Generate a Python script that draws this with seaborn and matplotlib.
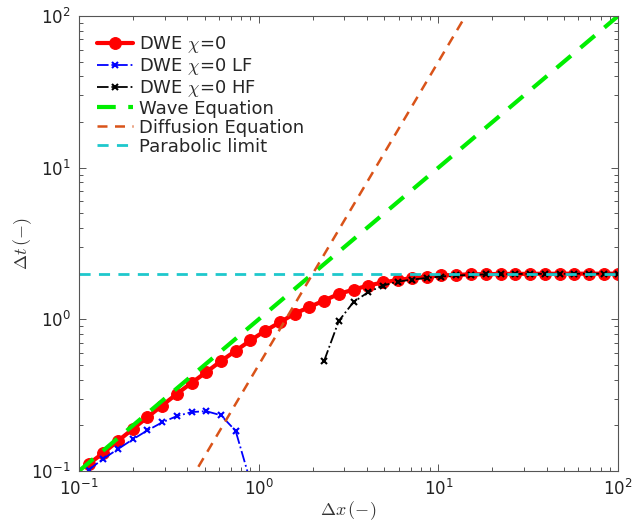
import numpy as np
import pandas as pd
import matplotlib
matplotlib.use("Agg")
import matplotlib.pyplot as plt
from matplotlib.font_manager import FontProperties
import seaborn as sns

# ---- data ----
dx = [0.113, 0.136, 0.165, 0.199, 0.240, 0.290, 0.350, 0.423, 0.510, 0.616,
      0.744, 0.899, 1.086, 1.312, 1.585, 1.914, 2.31, 2.79, 3.37, 4.07,
      4.91, 5.93, 7.16, 8.65, 10.4, 12.6, 15.2, 18.4, 22.2, 26.8,
      32.4, 39.1, 47.2, 57.0, 68.9, 83.2, 100.0]
dwe = [0.111, 0.131, 0.158, 0.189, 0.226, 0.270, 0.322, 0.381, 0.448, 0.530,
       0.620, 0.725, 0.840, 0.955, 1.09, 1.205, 1.33, 1.47, 1.57, 1.67,
       1.75, 1.815, 1.87, 1.915, 1.945, 1.965, 1.978, 1.986, 1.99, 1.993,
       1.995, 1.997, 1.998, 1.999, 1.999, 2.0, 2.0]
lf_dx = dx[:12]
lf = [0.1016, 0.120, 0.1396, 0.1615, 0.185, 0.209, 0.230, 0.2445, 0.248, 0.233,
      0.184, 0.085]
hf_dx = dx[16:]
hf = [0.53, 0.975, 1.30, 1.51, 1.67, 1.77, 1.83, 1.875, 1.915, 1.945,
      1.965, 1.978, 1.986, 1.99, 1.993, 1.995, 1.997, 1.998, 1.999, 2.0, 2.0]
wave_dx = [0.1, 100.0]
wave_dt = [0.1, 100.0]
diff_dx = [0.1, 100.0]
diff_dt = [0.005, 5000.0]
para_dx = [0.1, 100.0]
para_dt = [2.0, 2.0]

labels = [r"DWE $\chi$=0", r"DWE $\chi$=0 LF", r"DWE $\chi$=0 HF",
          "Wave Equation", "Diffusion Equation", "Parabolic limit"]

sns.set_style("ticks")
plt.rcParams['font.family'] = ['DejaVu Sans']

fig = plt.figure(figsize=(6.32, 5.26), dpi=100)
ax = fig.add_axes([0.125, 0.1046, 0.853, 0.865])

sns.lineplot(x=dx, y=dwe, ax=ax, color="#FF0000", lw=3, marker="o",
             markersize=8.5, markeredgecolor="#FF0000", label=labels[0], sort=False)
sns.lineplot(x=lf_dx, y=lf, ax=ax, color="#0000FF", lw=1.3, linestyle="-.",
             marker="x", markersize=4, markeredgewidth=1.5, markeredgecolor="#0000FF",
             label=labels[1], sort=False)
sns.lineplot(x=hf_dx, y=hf, ax=ax, color="black", lw=1.3, linestyle="-.",
             marker="x", markersize=4, markeredgewidth=1.5, markeredgecolor="black",
             label=labels[2], sort=False)
sns.lineplot(x=wave_dx, y=wave_dt, ax=ax, color="#00EE00", lw=3,
             dashes=(4.5, 3), label=labels[3], sort=False)
sns.lineplot(x=diff_dx, y=diff_dt, ax=ax, color="#D95319", lw=1.8,
             dashes=(4, 3), label=labels[4], sort=False)
sns.lineplot(x=para_dx, y=para_dt, ax=ax, color="#1EC8CC", lw=2,
             dashes=(4, 3), label=labels[5], sort=False)

ax.set_xscale("log")
ax.set_yscale("log")
ax.set_xlim(0.1, 100)
ax.set_ylim(0.1, 100)

for s in ax.spines.values():
    s.set_visible(True)
    s.set_color("#555555")
    s.set_linewidth(0.8)
ax.tick_params(which="both", direction="in", top=True, right=True, bottom=True,
               left=True, colors="#555555", labelcolor="#222222", labelsize=12,
               width=0.7)
ax.tick_params(which="major", length=5)
ax.tick_params(which="minor", length=3)
ax.tick_params(axis="x", which="major", pad=6)
ax.tick_params(axis="y", which="major", pad=6)

ax.set_xlabel(r"$\Delta x\,(-)$", fontsize=13, math_fontfamily="cm", color="#333333",
              labelpad=0)
ax.set_ylabel(r"$\Delta t\,(-)$", fontsize=13, math_fontfamily="cm", color="#333333",
              labelpad=-2)

leg = ax.legend(loc="upper left", frameon=False,
                prop=FontProperties(family="DejaVu Sans", size=13, math_fontfamily="cm"),
                handlelength=2.0, labelspacing=0.05, handletextpad=0.35,
                borderaxespad=0.6)

fig.savefig("out.png", dpi=100)
